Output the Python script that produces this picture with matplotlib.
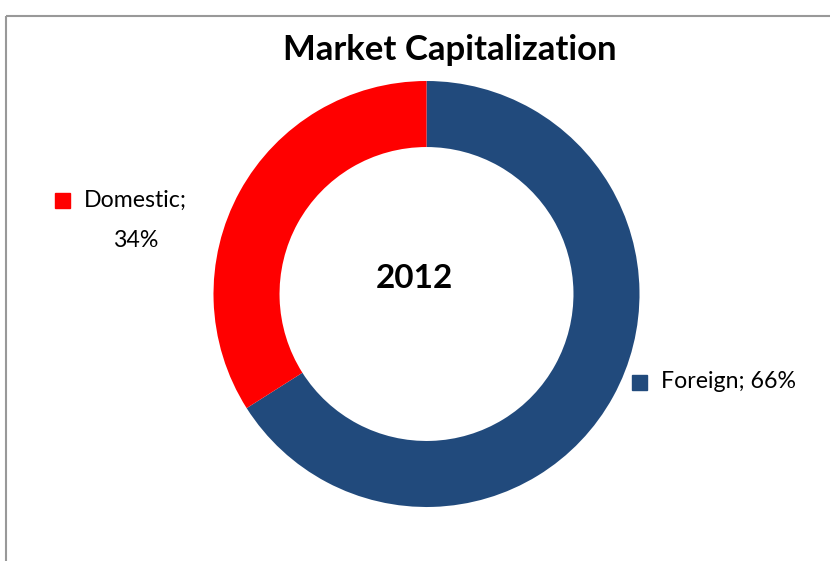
import matplotlib
matplotlib.use("Agg")
import matplotlib.pyplot as plt
from matplotlib.patches import Rectangle

plt.rcParams['font.family'] = ['Lato', 'DejaVu Sans']

# data
labels = ['Foreign', 'Domestic']
shares = [66, 34]
colors = ['#214A7C', '#FF0000']
title = 'Market Capitalization'
year = '2012'

W, H = 830, 561
fig = plt.figure(figsize=(W / 100, H / 100), dpi=100)
ax = fig.add_axes([0, 0, 1, 1])

cx, cy, r = 426.5, H - 294, 213
ax.pie(shares, colors=colors, startangle=90, counterclock=False,
       center=(cx, cy), radius=r,
       wedgeprops=dict(width=r * 0.31, edgecolor='none'))
ax.set_xlim(0, W)
ax.set_ylim(0, H)
ax.set_aspect('equal')
ax.axis('off')

# chart border (cropped on right/bottom)
ax.plot([6, 6], [0, H - 16], color='#999999', lw=1.5, solid_capstyle='butt')
ax.plot([6, W], [H - 16, H - 16], color='#999999', lw=1.5, solid_capstyle='butt')

ax.text(450, H - 50, title, ha='center', va='center', fontsize=25, fontweight='bold')
ax.text(cx - 12, H - 278, year, ha='center', va='center', fontsize=24, fontweight='bold')

# data labels with legend keys
def label(x, y, text, color):
    ax.add_patch(Rectangle((x, y - 8), 15, 15, color=color))
    ax.text(x + 29, y, text, ha='left', va='center', fontsize=16.7)

label(55, H - 200, labels[1] + ';', colors[1])
ax.text(136, H - 240, f'{shares[1]}%', ha='center', va='center', fontsize=16.7)
label(632, H - 382, f'{labels[0]}; {shares[0]}%', colors[0])

fig.savefig('out.png', dpi=100)
